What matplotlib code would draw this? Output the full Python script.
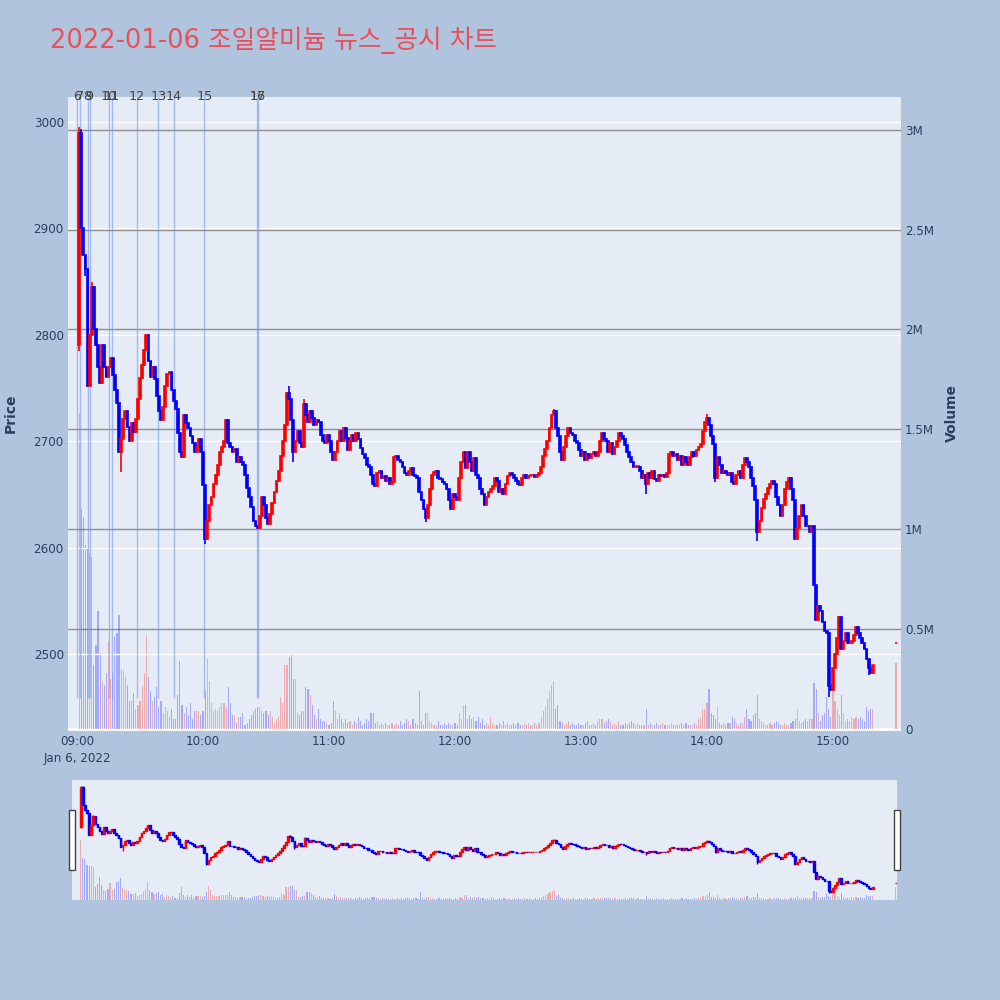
import numpy as np
import pandas as pd
import matplotlib
matplotlib.use('Agg')
import matplotlib.pyplot as plt
import matplotlib.dates as mdates
import matplotlib.transforms as mtransforms
from matplotlib.patches import Rectangle

plt.rcParams['font.family'] = ['DejaVu Sans', 'Noto Sans CJK KR']

# 1-minute closes from 09:01 (open of the first bar = first_open)
first_open = 2790
close = [
    2990, 2900, 2875, 2862, 2752, 2800, 2845, 2805, 2790, 2770,
    2755, 2790, 2770, 2760, 2770, 2778, 2762, 2748, 2736, 2690,
    2702, 2721, 2728, 2713, 2700, 2717, 2709, 2721, 2740, 2759,
    2772, 2786, 2800, 2775, 2760, 2770, 2758, 2742, 2728, 2720,
    2732, 2752, 2763, 2765, 2748, 2738, 2730, 2708, 2690, 2685,
    2725, 2717, 2712, 2705, 2698, 2690, 2695, 2702, 2690, 2659,
    2608, 2625, 2640, 2648, 2660, 2668, 2678, 2690, 2695, 2700,
    2720, 2698, 2695, 2690, 2693, 2680, 2685, 2680, 2678, 2668,
    2656, 2648, 2638, 2625, 2620, 2618, 2630, 2648, 2640, 2628,
    2622, 2632, 2642, 2652, 2663, 2672, 2686, 2700, 2715, 2745,
    2740, 2720, 2690, 2700, 2710, 2698, 2695, 2735, 2725, 2718,
    2728, 2722, 2715, 2720, 2718, 2706, 2700, 2698, 2706, 2700,
    2690, 2682, 2690, 2700, 2710, 2700, 2712, 2703, 2692, 2700,
    2706, 2700, 2708, 2702, 2694, 2688, 2684, 2678, 2676, 2668,
    2660, 2658, 2670, 2672, 2665, 2667, 2663, 2665, 2660, 2662,
    2685, 2686, 2682, 2680, 2676, 2670, 2668, 2672, 2675, 2668,
    2667, 2665, 2652, 2645, 2636, 2628, 2640, 2655, 2668, 2671,
    2672, 2665, 2664, 2662, 2660, 2655, 2645, 2636, 2650, 2648,
    2645, 2665, 2680, 2690, 2675, 2690, 2680, 2672, 2684, 2668,
    2665, 2655, 2650, 2640, 2648, 2652, 2655, 2658, 2665, 2663,
    2652, 2655, 2650, 2660, 2667, 2670, 2668, 2665, 2663, 2660,
    2659, 2665, 2668, 2665, 2667, 2668, 2668, 2666, 2668, 2670,
    2676, 2686, 2693, 2700, 2712, 2725, 2728, 2712, 2705, 2690,
    2682, 2695, 2705, 2712, 2708, 2706, 2700, 2698, 2692, 2686,
    2690, 2682, 2688, 2684, 2688, 2690, 2686, 2690, 2700, 2708,
    2702, 2700, 2690, 2698, 2688, 2695, 2700, 2708, 2705, 2702,
    2696, 2690, 2685, 2680, 2676, 2676, 2676, 2672, 2665, 2668,
    2660, 2670, 2665, 2672, 2664, 2663, 2668, 2667, 2668, 2666,
    2670, 2688, 2690, 2686, 2688, 2682, 2686, 2678, 2685, 2680,
    2678, 2685, 2690, 2686, 2692, 2695, 2697, 2710, 2718, 2722,
    2715, 2705, 2697, 2665, 2685, 2678, 2670, 2672, 2670, 2668,
    2670, 2662, 2660, 2668, 2672, 2665, 2678, 2684, 2680, 2676,
    2665, 2658, 2645, 2615, 2625, 2637, 2646, 2650, 2656, 2660,
    2663, 2660, 2648, 2640, 2630, 2640, 2655, 2662, 2665, 2655,
    2645, 2608, 2618, 2630, 2640, 2630, 2620, 2620, 2615, 2620,
    2565, 2532, 2545, 2540, 2530, 2522, 2520, 2470, 2466, 2487,
    2500, 2515, 2535, 2505, 2512, 2520, 2510, 2510, 2512, 2518,
    2525, 2520, 2515, 2510, 2505, 2495, 2487, 2482, 2490,
]

# volume per minute, in millions of shares
volume = [
    1.58, 1.10, 1.06, 0.92, 0.90, 0.88, 0.86, 0.32, 0.42, 0.59,
    0.38, 0.24, 0.22, 0.28, 0.44, 0.25, 0.28, 0.46, 0.48, 0.57,
    0.30, 0.29, 0.26, 0.22, 0.14, 0.14, 0.18, 0.10, 0.12, 0.14,
    0.22, 0.28, 0.47, 0.26, 0.19, 0.14, 0.16, 0.21, 0.11, 0.14,
    0.08, 0.11, 0.09, 0.06, 0.10, 0.05, 0.05, 0.17, 0.34, 0.12,
    0.08, 0.11, 0.07, 0.13, 0.05, 0.09, 0.09, 0.09, 0.07, 0.09,
    0.19, 0.35, 0.24, 0.13, 0.09, 0.10, 0.09, 0.11, 0.13, 0.13,
    0.11, 0.21, 0.13, 0.07, 0.07, 0.03, 0.06, 0.06, 0.08, 0.02,
    0.03, 0.05, 0.07, 0.09, 0.10, 0.11, 0.11, 0.09, 0.08, 0.09,
    0.07, 0.09, 0.06, 0.03, 0.05, 0.06, 0.16, 0.13, 0.32, 0.32,
    0.36, 0.37, 0.25, 0.25, 0.08, 0.07, 0.09, 0.09, 0.21, 0.20,
    0.17, 0.12, 0.07, 0.05, 0.10, 0.05, 0.04, 0.04, 0.03, 0.02,
    0.03, 0.14, 0.09, 0.05, 0.08, 0.05, 0.03, 0.05, 0.03, 0.04,
    0.02, 0.04, 0.03, 0.06, 0.04, 0.02, 0.03, 0.05, 0.04, 0.08,
    0.08, 0.03, 0.04, 0.02, 0.03, 0.02, 0.03, 0.02, 0.02, 0.03,
    0.02, 0.03, 0.02, 0.04, 0.02, 0.03, 0.05, 0.04, 0.02, 0.05,
    0.03, 0.02, 0.19, 0.04, 0.02, 0.08, 0.08, 0.04, 0.03, 0.02,
    0.02, 0.04, 0.02, 0.02, 0.03, 0.02, 0.03, 0.02, 0.02, 0.03,
    0.02, 0.08, 0.05, 0.12, 0.12, 0.05, 0.07, 0.05, 0.06, 0.04,
    0.06, 0.03, 0.05, 0.02, 0.03, 0.02, 0.06, 0.03, 0.02, 0.02,
    0.03, 0.02, 0.04, 0.02, 0.03, 0.02, 0.02, 0.03, 0.02, 0.03,
    0.02, 0.02, 0.03, 0.02, 0.03, 0.02, 0.02, 0.03, 0.02, 0.03,
    0.06, 0.09, 0.11, 0.15, 0.19, 0.22, 0.24, 0.10, 0.12, 0.04,
    0.03, 0.02, 0.03, 0.04, 0.02, 0.03, 0.02, 0.02, 0.03, 0.02,
    0.02, 0.03, 0.04, 0.02, 0.02, 0.03, 0.02, 0.04, 0.05, 0.05,
    0.03, 0.04, 0.05, 0.04, 0.02, 0.03, 0.02, 0.04, 0.02, 0.02,
    0.03, 0.02, 0.03, 0.04, 0.03, 0.02, 0.03, 0.02, 0.02, 0.02,
    0.10, 0.02, 0.03, 0.02, 0.02, 0.03, 0.02, 0.02, 0.03, 0.02,
    0.02, 0.02, 0.03, 0.02, 0.02, 0.02, 0.02, 0.03, 0.02, 0.03,
    0.02, 0.02, 0.02, 0.03, 0.02, 0.05, 0.06, 0.10, 0.10, 0.13,
    0.20, 0.08, 0.07, 0.05, 0.11, 0.03, 0.02, 0.03, 0.02, 0.03,
    0.03, 0.06, 0.05, 0.03, 0.02, 0.03, 0.03, 0.06, 0.10, 0.05,
    0.04, 0.07, 0.08, 0.17, 0.05, 0.04, 0.03, 0.02, 0.02, 0.03,
    0.02, 0.03, 0.04, 0.03, 0.02, 0.02, 0.03, 0.02, 0.02, 0.03,
    0.04, 0.05, 0.10, 0.04, 0.03, 0.04, 0.05, 0.04, 0.05, 0.05,
    0.23, 0.20, 0.08, 0.04, 0.07, 0.08, 0.16, 0.10, 0.06, 0.21,
    0.14, 0.10, 0.07, 0.17, 0.08, 0.04, 0.05, 0.04, 0.06, 0.05,
    0.06, 0.05, 0.06, 0.05, 0.04, 0.11, 0.09, 0.10, 0.10,
]

# wick extremes where they go beyond open/close
wick_high = {'09:01': 2995, '09:02': 2993, '09:07': 2850, '10:41': 2752,
             '10:48': 2740, '12:47': 2730, '14:00': 2726}
wick_low = {'09:01': 2785, '09:04': 2855, '09:21': 2671, '10:01': 2603,
            '10:43': 2680, '11:46': 2624, '13:31': 2650, '14:04': 2662,
            '14:24': 2606, '14:58': 2460, '15:17': 2480}

# closing auction print
auction_time = '15:30'
auction_price = 2510
auction_volume = 0.33

news_times = ['09:00', '09:01:30', '09:05', '09:06', '09:15', '09:16:30',
              '09:28:30', '09:38:40', '09:46', '10:00:40', '10:25:50', '10:26:10']
news_labels = ['6', '7', '8', '9', '10', '11', '12', '13', '14', '15', '16', '17']

day = '2022-01-06 '
times = pd.date_range(day + '09:01', periods=len(close), freq='min')
x = mdates.date2num(times.to_pydatetime())
c = np.array(close, dtype=float)
o = np.r_[first_open, c[:-1]]
hi = np.maximum(o, c)
lo = np.minimum(o, c)
for k, v in wick_high.items():
    i = times.get_loc(pd.Timestamp(day + k))
    hi[i] = v
for k, v in wick_low.items():
    i = times.get_loc(pd.Timestamp(day + k))
    lo[i] = v

# append the auction print
xa = mdates.date2num(pd.Timestamp(day + auction_time).to_pydatetime())
x = np.r_[x, xa]
o = np.r_[o, auction_price]
c = np.r_[c, auction_price]
hi = np.r_[hi, auction_price]
lo = np.r_[lo, auction_price]
vol = np.r_[volume, auction_volume]

up = c >= o
cols = np.where(up, '#FF0000', '#0000FF')
vcols = [(1, 0, 0, 0.28) if u else (0, 0, 1, 0.28) for u in up]

minute = 1 / 1440
t0 = mdates.date2num(pd.Timestamp(day + '09:00').to_pydatetime())

BG = '#B0C4DE'
PLOT = '#E5ECF6'
TXT = '#2a3f5f'
fig = plt.figure(figsize=(10, 10), dpi=100, facecolor=BG)


def draw(axp, axv, body_w, lw):
    axv.bar(x, vol, width=0.55 * minute, color=vcols, linewidth=0, zorder=2)
    axp.vlines(x, lo, hi, colors=cols, lw=lw, zorder=3)
    axp.bar(x, np.maximum(np.abs(c - o), 0.3), bottom=np.minimum(o, c),
            width=body_w * minute, color=cols, edgecolor=cols,
            linewidth=lw, zorder=3)


# main chart
rect = [0.068, 0.269, 0.833, 0.634]
axv = fig.add_axes(rect, facecolor=PLOT)
axp = fig.add_axes(rect, sharex=axv)
axp.patch.set_alpha(0)
axp.set_zorder(axv.get_zorder() + 1)
draw(axp, axv, 0.85, 1.2)

axp.set_xlim(t0 - 4.3 * minute, t0 + 392.4 * minute)
axp.set_ylim(2427.6, 3023.5)
axv.set_ylim(-0.0125, 3.165)

axp.set_yticks([2500, 2600, 2700, 2800, 2900, 3000])
axp.grid(axis='y', color='white', lw=1, zorder=0)
axp.set_axisbelow(True)
axv.set_yticks([0, 0.5, 1, 1.5, 2, 2.5, 3])
axv.set_yticklabels(['0', '0.5M', '1M', '1.5M', '2M', '2.5M', '3M'])
axv.yaxis.tick_right()
axv.grid(axis='y', color='#8f8f8f', lw=1, zorder=0)
axv.set_axisbelow(True)
axv.axhline(0, color='white', lw=2, zorder=1)

hours = [t0 + h * 60 * minute for h in range(7)]
axp.set_xticks(hours)
axp.set_xticklabels(['09:00\nJan 6, 2022'] + ['%02d:00' % (9 + h) for h in range(1, 7)],
                    linespacing=1.35)
axv.tick_params(axis='x', labelbottom=False, length=0)

for a in (axp, axv):
    for s in a.spines.values():
        s.set_visible(False)
    a.tick_params(length=0, pad=3, labelsize=8.6, labelcolor=TXT)
for lab in axp.get_xticklabels():
    lab.set_verticalalignment('top')

# news markers
nx = [mdates.date2num(pd.Timestamp(day + t).to_pydatetime()) for t in news_times]
axp.vlines(nx, 2459, 3023.5, colors='#6f8fea', lw=1, alpha=0.55, zorder=2)
trans = mtransforms.blended_transform_factory(axp.transData, axp.transAxes)
for xx, lab in zip(nx, news_labels):
    axp.text(xx, 1.0, lab, transform=trans, ha='center', va='center',
             fontsize=9.2, color='#444444', clip_on=False, zorder=5)

# range slider
srect = [0.0715, 0.1, 0.8255, 0.12]
sv = fig.add_axes(srect, facecolor=PLOT)
sp = fig.add_axes(srect, sharex=sv)
sp.patch.set_alpha(0)
sp.set_zorder(sv.get_zorder() + 1)
draw(sp, sv, 0.8, 1.0)
sp.set_xlim(t0 - 3.4 * minute, t0 + 390.6 * minute)
sp.set_ylim(2427.6, 3023.5)
sv.set_ylim(-0.0125, 3.165)
for a in (sp, sv):
    a.set_xticks([])
    a.set_yticks([])
    for s in a.spines.values():
        s.set_visible(False)
for hx in (0.0685, 0.894):
    fig.patches.append(Rectangle((hx, 0.13), 0.006, 0.06, transform=fig.transFigure,
                                 facecolor='white', edgecolor='#444444', lw=1, zorder=10))

fig.text(0.05, 0.96, '2022-01-06 조일알미늄 뉴스_공시 차트', fontsize=18.5,
         color='#E8505B', va='center', ha='left')
fig.text(0.011, 0.587, 'Price', rotation=90, fontsize=10, fontweight='bold',
         color=TXT, va='center', ha='center')
fig.text(0.952, 0.587, 'Volume', rotation=90, fontsize=10, fontweight='bold',
         color=TXT, va='center', ha='center')

fig.savefig('out.png', dpi=100, facecolor=BG)
